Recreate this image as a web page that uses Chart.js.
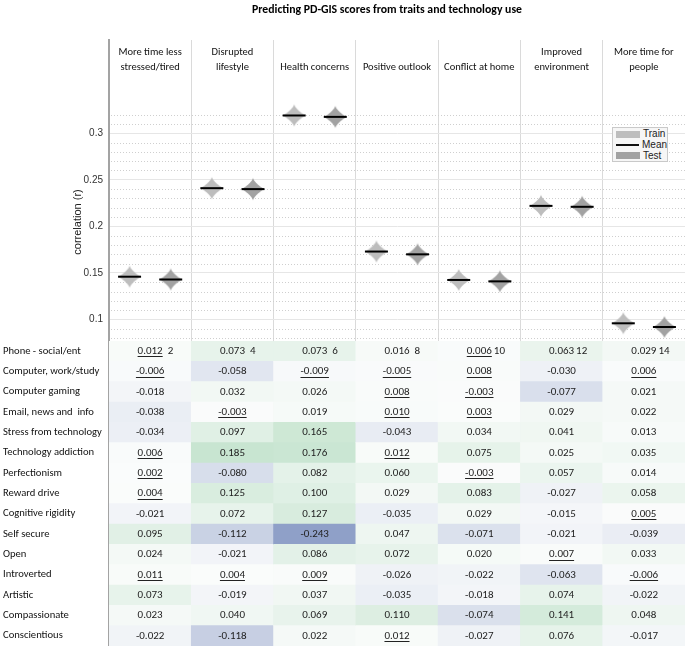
<!DOCTYPE html>
<html lang="en">
<head>
    <meta charset="UTF-8">
    <title>Predicting PD-GIS scores</title>
    <script src="https://cdn.jsdelivr.net/npm/chart.js"></script>
    <style>
        body { margin: 0; background: #fff; }
        .wrap { position: relative; width: 685px; height: 646px; }
        .chart-title {
            position: absolute; left: 252px; top: 2px;
            font: bold 11.75px Carlito, Calibri, sans-serif; color: #000; white-space: nowrap;
        }
        .legend {
            position: absolute; left: 612px; top: 127px; width: 56px; height: 35px;
            box-sizing: border-box; border: 1px solid #c9c9c9; background: #f6f6f6;
            font: 10px "Liberation Sans", Arial, sans-serif; color: #222; padding-top: 1px;
        }
        .legend .item { height: 10.8px; line-height: 10.8px; display: flex; align-items: center; margin-left: 3px; }
        .legend .sw { width: 24px; height: 7px; margin-right: 3px; }
        .legend .ln { width: 24px; height: 2px; background: #111; margin-right: 3px; }
    </style>
</head>
<body>
<div class="wrap">
    <div class="chart-title">Predicting PD-GIS scores from traits and technology use</div>
    <canvas id="pdgisChart" width="685" height="646"></canvas>
    <div class="legend">
        <div class="item"><span class="sw" style="background:#bdbdbd"></span>Train</div>
        <div class="item"><span class="ln"></span>Mean</div>
        <div class="item"><span class="sw" style="background:#a2a2a2"></span>Test</div>
    </div>
</div>

<script>
    // outcome columns (header lines)
    const outcomes = [
        ['More time less', 'stressed/tired'],
        ['Disrupted', 'lifestyle'],
        ['Health concerns'],
        ['Positive outlook'],
        ['Conflict at home'],
        ['Improved', 'environment'],
        ['More time for', 'people']
    ];

    // predictors (table rows)
    const traits = ['Phone - social/ent', 'Computer, work/study', 'Computer gaming', 'Email, news and  info',
        'Stress from technology', 'Technology addiction', 'Perfectionism', 'Reward drive', 'Cognitive rigidity',
        'Self secure', 'Open', 'Introverted', 'Artistic', 'Compassionate', 'Conscientious'];

    const yTicks = [0.1, 0.15, 0.2, 0.25, 0.3];
    const yMin = 0.077;
    const yMax = 0.4;

    // mean correlation (r) of the train / test distributions
    const trainMean = [0.146, 0.241, 0.319, 0.173, 0.1425, 0.222, 0.096];
    const testMean = [0.143, 0.240, 0.3175, 0.170, 0.141, 0.221, 0.092];

    // little numbers after the first row
    const firstRowTags = ['2', '4', '6', '8', '10', '12', '14'];

    // coefficients, one array per outcome column
    const moreTimeLessStressed = [0.012, -0.006, -0.018, -0.038, -0.034, 0.006, 0.002, 0.004, -0.021, 0.095, 0.024, 0.011, 0.073, 0.023, -0.022];
    const disruptedLifestyle = [0.073, -0.058, 0.032, -0.003, 0.097, 0.185, -0.080, 0.125, 0.072, -0.112, -0.021, 0.004, -0.019, 0.040, -0.118];
    const healthConcerns = [0.073, -0.009, 0.026, 0.019, 0.165, 0.176, 0.082, 0.100, 0.127, -0.243, 0.086, 0.009, 0.037, 0.069, 0.022];
    const positiveOutlook = [0.016, -0.005, 0.008, 0.010, -0.043, 0.012, 0.060, 0.029, -0.035, 0.047, 0.072, -0.026, -0.035, 0.110, 0.012];
    const conflictAtHome = [0.006, 0.008, -0.003, 0.003, 0.034, 0.075, -0.003, 0.083, 0.029, -0.071, 0.020, -0.022, -0.018, -0.074, -0.027];
    const improvedEnvironment = [0.063, -0.030, -0.077, 0.029, 0.041, 0.025, 0.057, -0.027, -0.015, -0.021, 0.007, -0.063, 0.074, 0.141, 0.076];
    const moreTimeForPeople = [0.029, 0.006, 0.021, 0.022, 0.013, 0.035, 0.014, 0.058, 0.005, -0.039, 0.033, -0.006, -0.022, 0.048, -0.017];

    const columns = [moreTimeLessStressed, disruptedLifestyle, healthConcerns, positiveOutlook,
        conflictAtHome, improvedEnvironment, moreTimeForPeople];

    const cellFont = '11px Carlito, Calibri, sans-serif';
    const headFont = '10.5px Carlito, Calibri, sans-serif';

    // violin shape used as point style
    function violinImage(color) {
        const c = document.createElement('canvas');
        c.width = 24; c.height = 24;
        const g = c.getContext('2d');
        g.fillStyle = color;
        g.beginPath();
        for (let k = 0; k <= 40; k++) {
            const t = -1 + k / 20;
            g.lineTo(12 + 11 * Math.pow(1 - Math.abs(t), 1.6), 12 + t * 11.5);
        }
        for (let k = 40; k >= 0; k--) {
            const t = -1 + k / 20;
            g.lineTo(12 - 11 * Math.pow(1 - Math.abs(t), 1.6), 12 + t * 11.5);
        }
        g.closePath();
        g.fill();
        return c;
    }

    function cellColor(v) {
        const t = Math.min(Math.abs(v) / 0.243, 1);
        const base = [251, 252, 252];
        const end = v >= 0 ? [184, 222, 195] : [143, 160, 200];
        return 'rgb(' + base.map((b, k) => Math.round(b + (end[k] - b) * t)).join(',') + ')';
    }

    const cells = [];
    columns.forEach((col, c) => col.forEach((v, r) => cells.push({x: c, y: [r - 0.5, r + 0.5], v: v})));

    // no extra room for half labels at the ends of the stacked axes
    function fixAxis(s) {
        s.width = 106;
        s.paddingTop = 0;
        s.paddingBottom = 0;
    }

    // texts: headers, cell values, y title, dotted grid
    const extras = {
        id: 'extras',
        beforeDatasetsDraw(chart) {
            const {ctx, chartArea, scales: {y}} = chart;
            ctx.save();
            ctx.strokeStyle = '#cfcfcf';
            ctx.lineWidth = 1;
            ctx.setLineDash([1, 2]);
            for (let k = 8; k <= 32; k++) {
                if (k % 5 === 0) continue;
                const py = Math.round(y.getPixelForValue(k / 100)) + 0.5;
                ctx.beginPath();
                ctx.moveTo(chartArea.left + 2, py);
                ctx.lineTo(chartArea.right, py);
                ctx.stroke();
            }
            ctx.restore();
        },
        afterDraw(chart) {
            const {ctx, scales: {x, yT}} = chart;
            ctx.save();
            ctx.fillStyle = '#111';
            ctx.textAlign = 'center';
            ctx.textBaseline = 'middle';
            ctx.font = headFont;
            outcomes.forEach((lines, i) => {
                const px = x.getPixelForValue(i);
                if (lines.length === 2) {
                    ctx.fillText(lines[0], px, 52);
                    ctx.fillText(lines[1], px, 67);
                } else {
                    ctx.fillText(lines[0], px, 67);
                }
            });

            ctx.font = cellFont;
            ctx.fillStyle = '#222';
            ctx.strokeStyle = '#222';
            ctx.lineWidth = 1;
            columns.forEach((col, c) => {
                const px = x.getPixelForValue(c);
                col.forEach((v, r) => {
                    const py = yT.getPixelForValue(r);
                    const txt = v.toFixed(3);
                    const w = ctx.measureText(txt).width;
                    ctx.textAlign = 'center';
                    ctx.fillText(txt, px, py);
                    if (Math.abs(v) <= 0.012) {
                        const uy = Math.round(py + 5) + 0.5;
                        ctx.beginPath();
                        ctx.moveTo(px - w / 2, uy);
                        ctx.lineTo(px + w / 2, uy);
                        ctx.stroke();
                    }
                    if (r === 0) {
                        const tag = firstRowTags[c];
                        ctx.textAlign = 'left';
                        ctx.fillText(tag, px + w / 2 + (tag.length === 1 ? 5 : 2), py);
                    }
                });
            });

            // y axis title
            ctx.font = '11px "Liberation Sans", Arial, sans-serif';
            ctx.fillStyle = '#222';
            ctx.textAlign = 'center';
            ctx.translate(78, 222);
            ctx.rotate(-Math.PI / 2);
            ctx.fillText('correlation (r)', 0, 0);
            ctx.restore();
        }
    };

    const ctxPd = document.getElementById('pdgisChart').getContext('2d');
    const pdgisChart = new Chart(ctxPd, {
        type: 'scatter',
        data: {
            datasets: [
                {
                    label: 'Mean',
                    order: 0,
                    yAxisID: 'y',
                    data: trainMean.map((v, i) => ({x: i - 0.25, y: v}))
                        .concat(testMean.map((v, i) => ({x: i + 0.25, y: v}))),
                    pointStyle: 'line',
                    pointRadius: 11.5,
                    pointBorderWidth: 2,
                    pointBorderColor: '#000',
                    pointBackgroundColor: '#000'
                },
                {
                    label: 'Train',
                    order: 1,
                    yAxisID: 'y',
                    data: trainMean.map((v, i) => ({x: i - 0.25, y: v})),
                    pointStyle: violinImage('#bdbdbd'),
                    pointRadius: 11
                },
                {
                    label: 'Test',
                    order: 1,
                    yAxisID: 'y',
                    data: testMean.map((v, i) => ({x: i + 0.25, y: v})),
                    pointStyle: violinImage('#a2a2a2'),
                    pointRadius: 11
                },
                {
                    type: 'bar',
                    label: 'cells',
                    order: 2,
                    yAxisID: 'yT',
                    data: cells,
                    backgroundColor: c => c.raw ? cellColor(c.raw.v) : '#fff',
                    borderWidth: 0,
                    barPercentage: 1,
                    categoryPercentage: 1
                }
            ]
        },
        options: {
            responsive: false,
            animation: false,
            layout: { autoPadding: false, padding: { top: 40, left: 3, right: 0, bottom: 0 } },
            plugins: {
                legend: { display: false },
                tooltip: { enabled: false },
                title: { display: false }
            },
            scales: {
                x: {
                    type: 'linear',
                    min: -0.5,
                    max: 6.5,
                    offset: false,
                    position: { y: yMin },
                    z: 1,
                    afterBuildTicks: s => { s.ticks = [-0.5].concat(outcomes.map((o, i) => i + 0.5)).map(v => ({value: v})); },
                    afterFit: s => { s.height = 0; s.paddingLeft = 0; s.paddingRight = 0; },
                    ticks: { display: false },
                    grid: {
                        offset: false,
                        drawTicks: false,
                        color: c => c.tick && c.tick.value < 0 ? 'rgba(0,0,0,0)' : '#dadada'
                    },
                    border: { display: true, color: '#9d9d9d', width: 1 }
                },
                y: {
                    type: 'linear',
                    position: 'left',
                    stack: 'panel',
                    stackWeight: 301,
                    weight: 2,
                    min: yMin,
                    max: yMax,
                    afterBuildTicks: s => { s.ticks = yTicks.map(v => ({value: v})); },
                    afterFit: fixAxis,
                    ticks: {
                        autoSkip: false,
                        padding: 6,
                        color: '#333',
                        font: { family: '"Liberation Sans", Arial, sans-serif', size: 10 },
                        callback: v => String(+v.toFixed(2))
                    },
                    grid: { drawTicks: false, color: '#e6e6e6' },
                    border: { color: '#a3a3a3', width: 2 }
                },
                yT: {
                    type: 'linear',
                    axis: 'y',
                    position: 'left',
                    stack: 'panel',
                    stackWeight: 305,
                    weight: 1,
                    reverse: true,
                    min: -0.5,
                    max: traits.length - 0.5,
                    afterBuildTicks: s => { s.ticks = traits.map((t, i) => ({value: i})); },
                    afterFit: fixAxis,
                    ticks: {
                        autoSkip: false,
                        crossAlign: 'far',
                        color: '#111',
                        font: { family: 'Carlito, Calibri, sans-serif', size: 10.6 },
                        callback: v => traits[v]
                    },
                    grid: { display: false, drawTicks: false },
                    border: { color: '#a3a3a3', width: 2 }
                }
            }
        },
        plugins: [extras]
    });
</script>
</body>
</html>
